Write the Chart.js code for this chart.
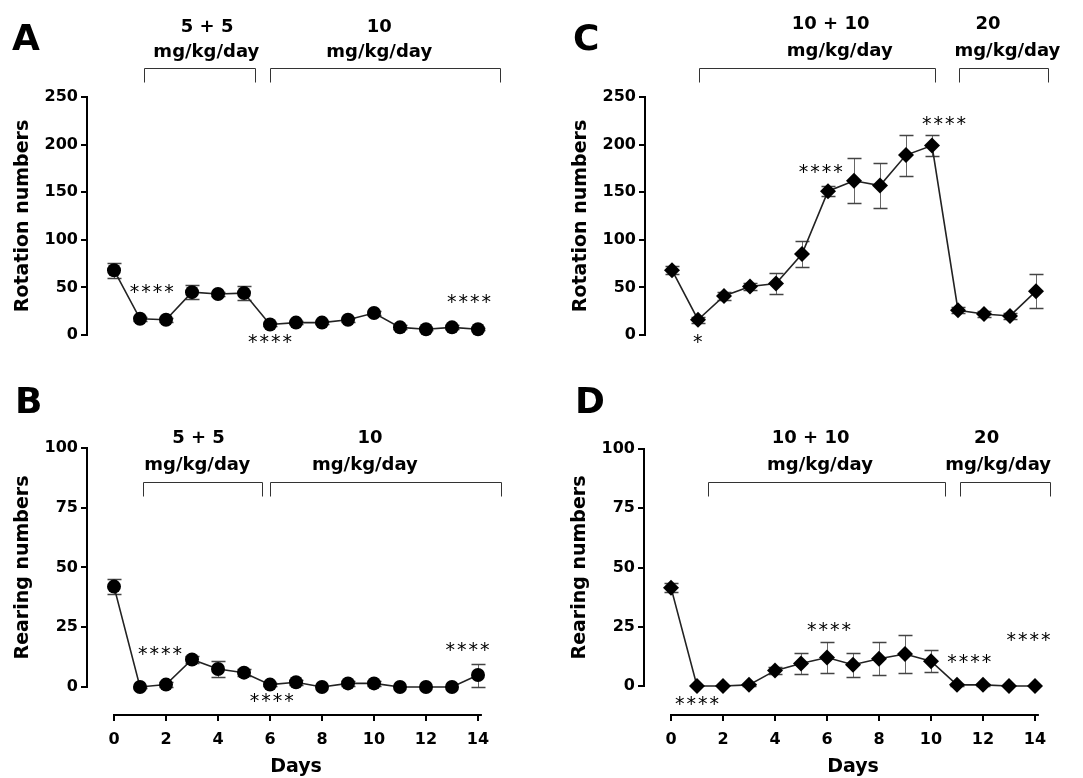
<!DOCTYPE html>
<html>
<head>
<meta charset="utf-8">
<script src="https://cdn.jsdelivr.net/npm/chart.js@4.4.1/dist/chart.umd.min.js"></script>
<style>
  html, body { margin: 0; padding: 0; background: #fff; }
  #fig { position: relative; width: 1083px; height: 778px; overflow: hidden; background: #fff; }
  #fig canvas { position: absolute; }
</style>
</head>
<body>
<div id="fig">
  <canvas id="panelA" width="540" height="380" style="left:0;top:0"></canvas>
  <canvas id="panelB" width="540" height="398" style="left:0;top:380px"></canvas>
  <canvas id="panelC" width="543" height="380" style="left:540px;top:0"></canvas>
  <canvas id="panelD" width="543" height="398" style="left:540px;top:380px"></canvas>
</div>
<script>
// ---- data: mean and SEM per day ----
const days = [0, 1, 2, 3, 4, 5, 6, 7, 8, 9, 10, 11, 12, 13, 14];
const dayTicks = [0, 2, 4, 6, 8, 10, 12, 14];
const rotationTicks = [0, 50, 100, 150, 200, 250];
const rearingTicks = [0, 25, 50, 75, 100];

// 5 + 5 then 10 mg/kg/day
const rotationLow    = [68, 17, 16, 45, 43, 44, 11, 13, 13, 16, 23, 8, 6, 8, 6];
const rotationLowSem = [8, 2, 2, 7, 2, 7.5, 2, 2, 2, 2, 2, 2, 1, 2, 1];
const rearingLow     = [42, 0, 1, 11.5, 7.5, 6, 1, 2, 0, 1.5, 1.5, 0, 0, 0, 5];
const rearingLowSem  = [3, 0.5, 1, 1.5, 3.5, 1.5, 0.5, 1, 0, 1, 1, 0, 0, 0, 4.8];

// 10 + 10 then 20 mg/kg/day
const rotationHigh    = [68, 16, 41, 51, 54, 85, 151, 162, 157, 189, 199, 26, 22, 20, 46];
const rotationHighSem = [4, 3, 4, 4, 11, 14, 5, 23.5, 24, 21.5, 11.5, 3, 3, 3, 18];
const rearingHigh     = [41.5, 0, 0, 0.5, 6.5, 9.5, 12, 9, 11.5, 13.5, 10.5, 0.5, 0.5, 0, 0];
const rearingHighSem  = [2, 0, 0, 0.5, 1.5, 4.3, 6.7, 5, 7, 8, 4.5, 0.5, 0.5, 0, 0];

// ---- layout constants ----
const FONT = "'DejaVu Sans', 'Liberation Sans', sans-serif";
const Y_W = 80;       // width reserved for the y scale
const X_H = 64;       // height reserved for the x scale
const PX_PER_DAY = 26;
const X_MIN = -1, X_MAX = 15, X_AXIS_END = 14.15;
const CAP = 7;        // half width of error bar caps

const panels = [
  {
    canvas: 'panelA', letter: 'A', letterAt: [12, 50],
    values: rotationLow, errors: rotationLowSem, marker: 'circle', radius: 7,
    yTitle: 'Rotation numbers', yTicks: rotationTicks, yMin: -28.4, yMax: 250,
    showX: false, area: { left: 88, top: 97, bottom: 362 },
    brackets: [
      { from: 1.15, to: 5.42, at: 280.5, texts: ['5 + 5', 'mg/kg/day'], tx: [3.58, 3.55], ty: [323.5, 297] },
      { from: 6.0, to: 14.85, at: 280.5, texts: ['10', 'mg/kg/day'], tx: [10.2, 10.2], ty: [323.5, 297] }
    ],
    stars: [ { t: '****', x: 1.45, y: 44 }, { t: '****', x: 6.0, y: -8.5 }, { t: '****', x: 13.65, y: 33.5 } ]
  },
  {
    canvas: 'panelB', letter: 'B', letterAt: [15, 33],
    values: rearingLow, errors: rearingLowSem, marker: 'circle', radius: 7,
    yTitle: 'Rearing numbers', yTicks: rearingTicks, yMin: -11.3, yMax: 100,
    showX: true, area: { left: 88, top: 68, bottom: 334 },
    brackets: [
      { from: 1.1, to: 5.7, at: 85.8, texts: ['5 + 5', 'mg/kg/day'], tx: [3.25, 3.2], ty: [104.2, 92.9] },
      { from: 6.0, to: 14.9, at: 85.8, texts: ['10', 'mg/kg/day'], tx: [9.85, 9.65], ty: [104.2, 92.9] }
    ],
    stars: [ { t: '****', x: 1.77, y: 13.4 }, { t: '****', x: 6.07, y: -6.3 }, { t: '****', x: 13.6, y: 15 } ]
  },
  {
    canvas: 'panelC', letter: 'C', letterAt: [33, 50],
    values: rotationHigh, errors: rotationHighSem, marker: 'rectRot', radius: 8,
    yTitle: 'Rotation numbers', yTicks: rotationTicks, yMin: -28.4, yMax: 250,
    showX: false, area: { left: 106, top: 97, bottom: 362 },
    brackets: [
      { from: 1.05, to: 10.1, at: 280.5, texts: ['10 + 10', 'mg/kg/day'], tx: [6.1, 6.45], ty: [326, 298] },
      { from: 11.04, to: 14.46, at: 280.5, texts: ['20', 'mg/kg/day'], tx: [12.15, 12.9], ty: [326, 298] }
    ],
    stars: [ { t: '*', x: 1.03, y: -9 }, { t: '****', x: 5.72, y: 170 }, { t: '****', x: 10.46, y: 221 } ]
  },
  {
    canvas: 'panelD', letter: 'D', letterAt: [35, 33],
    values: rearingHigh, errors: rearingHighSem, marker: 'rectRot', radius: 8,
    yTitle: 'Rearing numbers', yTicks: rearingTicks, yMin: -11.8, yMax: 100,
    showX: true, area: { left: 105, top: 69, bottom: 334 },
    brackets: [
      { from: 1.42, to: 10.53, at: 85.9, texts: ['10 + 10', 'mg/kg/day'], tx: [5.37, 5.73], ty: [104.5, 93.3] },
      { from: 11.13, to: 14.56, at: 85.9, texts: ['20', 'mg/kg/day'], tx: [12.14, 12.58], ty: [104.5, 93.3] }
    ],
    stars: [ { t: '****', x: 1.0, y: -8 }, { t: '****', x: 6.08, y: 23 }, { t: '****', x: 11.47, y: 9.6 }, { t: '****', x: 13.75, y: 19 } ]
  }
];

// Error bars, axis lines, titles, dose brackets and significance marks
const decorations = {
  id: 'decorations',
  beforeDatasetsDraw(chart) {
    const p = chart.options.plugins.decorations.panel;
    const xs = chart.scales.x, ys = chart.scales.y;
    const ctx = chart.ctx;
    ctx.save();
    p.values.forEach((v, i) => {
      const e = p.errors[i];
      if (!e) return;
      const x = Math.round(xs.getPixelForValue(days[i])) + 0.5;
      const y1 = Math.round(ys.getPixelForValue(v + e)) + 0.5;
      const y2 = Math.round(ys.getPixelForValue(v - e)) + 0.5;
      ctx.strokeStyle = '#666';
      ctx.lineWidth = 1;
      ctx.beginPath();
      ctx.moveTo(x, y1); ctx.lineTo(x, y2);
      ctx.stroke();
      ctx.strokeStyle = '#444';
      ctx.lineWidth = 1.5;
      ctx.beginPath();
      ctx.moveTo(x - CAP, y1); ctx.lineTo(x + CAP, y1);
      ctx.moveTo(x - CAP, y2); ctx.lineTo(x + CAP, y2);
      ctx.stroke();
    });
    ctx.restore();
  },
  afterDraw(chart) {
    const p = chart.options.plugins.decorations.panel;
    const xs = chart.scales.x, ys = chart.scales.y;
    const area = chart.chartArea;
    const ctx = chart.ctx;
    ctx.save();
    ctx.fillStyle = '#000';
    ctx.strokeStyle = '#000';

    // y axis line (0 to top tick)
    const y0 = ys.getPixelForValue(0), yTop = ys.getPixelForValue(p.yMax);
    ctx.lineWidth = 2;
    ctx.beginPath();
    ctx.moveTo(area.left - 1, y0 + 1);
    ctx.lineTo(area.left - 1, yTop - 1);
    ctx.stroke();

    // x axis line
    if (p.showX) {
      ctx.beginPath();
      ctx.moveTo(xs.getPixelForValue(0) - 1, area.bottom + 1);
      ctx.lineTo(xs.getPixelForValue(X_AXIS_END), area.bottom + 1);
      ctx.stroke();
    }

    // y axis title, centred on the axis line
    ctx.save();
    ctx.font = 'bold 19px ' + FONT;
    ctx.textAlign = 'center';
    ctx.textBaseline = 'middle';
    ctx.translate(area.left - 65, (y0 + yTop) / 2);
    ctx.rotate(-Math.PI / 2);
    ctx.fillText(p.yTitle, 0, 0);
    ctx.restore();

    // dose brackets
    p.brackets.forEach(b => {
      const x1 = Math.round(xs.getPixelForValue(b.from)) + 0.5;
      const x2 = Math.round(xs.getPixelForValue(b.to)) + 0.5;
      const yb = Math.round(ys.getPixelForValue(b.at)) + 0.5;
      ctx.lineWidth = 1;
      ctx.strokeStyle = '#333';
      ctx.beginPath();
      ctx.moveTo(x1, yb + 14); ctx.lineTo(x1, yb); ctx.lineTo(x2, yb); ctx.lineTo(x2, yb + 14);
      ctx.stroke();
      ctx.font = 'bold 18px ' + FONT;
      ctx.textAlign = 'center';
      ctx.textBaseline = 'middle';
      b.texts.forEach((t, k) => {
        ctx.fillText(t, xs.getPixelForValue(b.tx[k]), ys.getPixelForValue(b.ty[k]));
      });
    });

    // significance marks
    ctx.font = '19px ' + FONT;
    ctx.textAlign = 'center';
    ctx.textBaseline = 'middle';
    if ('letterSpacing' in ctx) ctx.letterSpacing = '2px';
    p.stars.forEach(s => {
      ctx.fillText(s.t, xs.getPixelForValue(s.x) + (s.t.length > 1 ? 1 : 0), ys.getPixelForValue(s.y));
    });
    if ('letterSpacing' in ctx) ctx.letterSpacing = '0px';

    // panel letter
    ctx.font = 'bold 36px ' + FONT;
    ctx.textAlign = 'left';
    ctx.textBaseline = 'alphabetic';
    ctx.fillText(p.letter, p.letterAt[0], p.letterAt[1]);
    ctx.restore();
  }
};

Chart.defaults.font.family = FONT;
Chart.defaults.color = '#000';

panels.forEach(p => {
  const cv = document.getElementById(p.canvas);
  const W = cv.width, H = cv.height;
  const right = p.area.left + (X_MAX - X_MIN) * PX_PER_DAY;
  new Chart(cv, {
    type: 'line',
    data: {
      datasets: [{
        data: days.map((d, i) => ({ x: d, y: p.values[i] })),
        borderColor: '#222',
        borderWidth: 1.6,
        backgroundColor: '#000',
        pointBackgroundColor: '#000',
        pointBorderColor: '#000',
        pointBorderWidth: 0,
        pointStyle: p.marker,
        pointRadius: p.radius,
        tension: 0,
        clip: false
      }]
    },
    options: {
      responsive: false,
      animation: false,
      devicePixelRatio: 1,
      events: [],
      layout: {
        padding: {
          left: p.area.left - Y_W,
          right: W - right,
          top: p.area.top,
          bottom: p.showX ? H - p.area.bottom - X_H : H - p.area.bottom
        }
      },
      plugins: {
        legend: { display: false },
        tooltip: { enabled: false },
        decorations: { panel: p }
      },
      scales: {
        x: {
          type: 'linear',
          min: X_MIN, max: X_MAX,
          display: p.showX,
          afterBuildTicks: s => { s.ticks = dayTicks.map(v => ({ value: v })); },
          afterFit: s => { s.height = p.showX ? X_H : 0; },
          border: { display: false },
          grid: { drawOnChartArea: false, drawTicks: true, tickLength: 7, lineWidth: 2, color: '#000' },
          ticks: { font: { size: 16, weight: 'bold' }, color: '#000', padding: 9, maxRotation: 0, autoSkip: false },
          title: { display: true, text: 'Days', font: { size: 19, weight: 'bold' }, color: '#000', padding: 0 }
        },
        y: {
          type: 'linear',
          min: p.yMin, max: p.yMax,
          afterBuildTicks: s => { s.ticks = p.yTicks.map(v => ({ value: v })); },
          afterFit: s => { s.width = Y_W; },
          border: { display: false },
          grid: { drawOnChartArea: false, drawTicks: true, tickLength: 7, lineWidth: 2, color: '#000' },
          ticks: { font: { size: 16, weight: 'bold' }, color: '#000', padding: 3 },
          title: { display: false }
        }
      }
    },
    plugins: [decorations]
  });
});
</script>
</body>
</html>
